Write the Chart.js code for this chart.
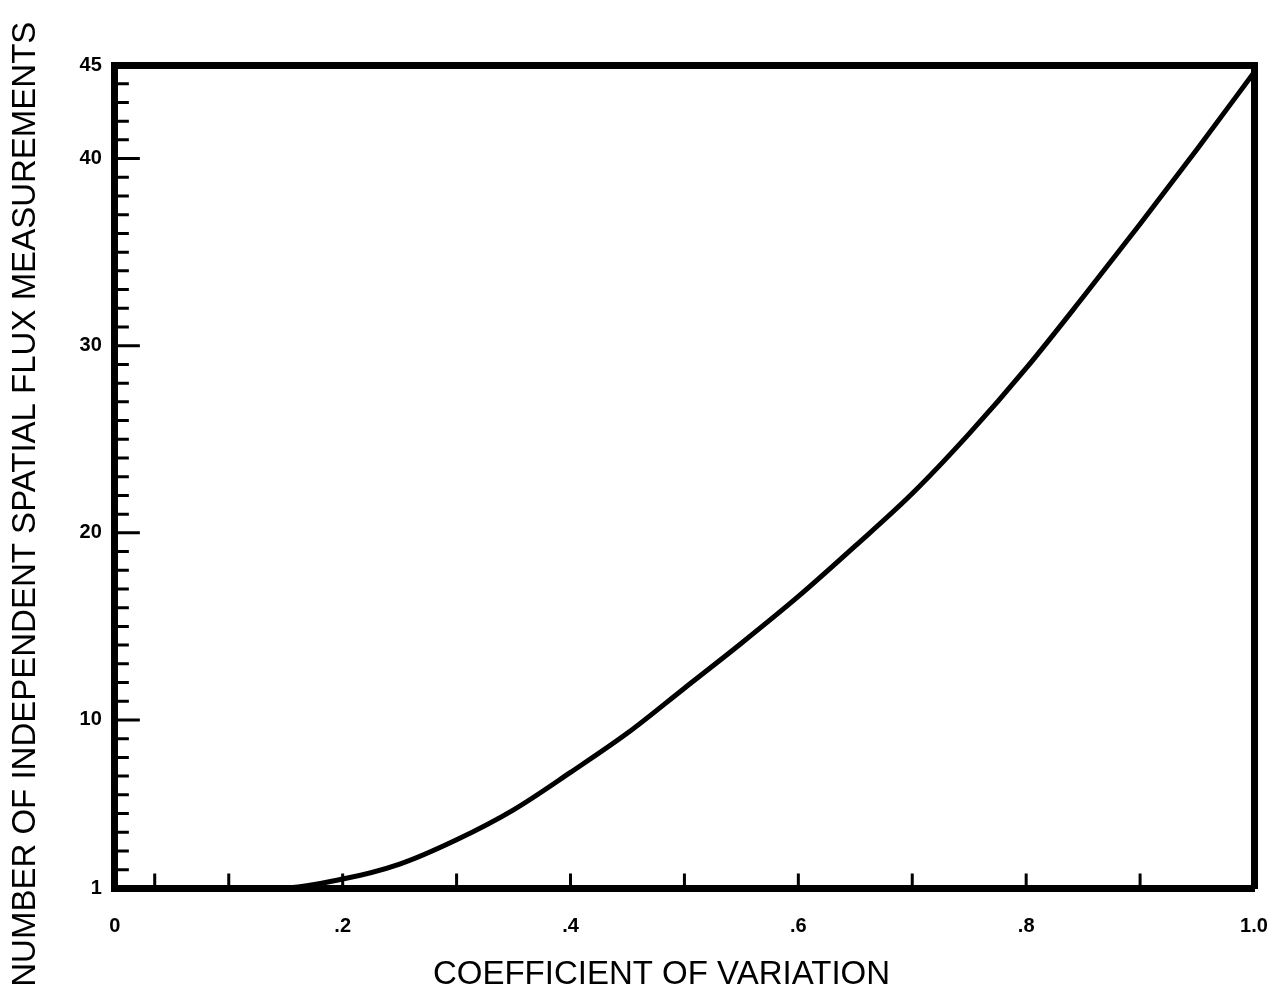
<!DOCTYPE html>
<html>
<head>
<meta charset="utf-8">
<title>Coefficient of variation</title>
<script src="https://cdn.jsdelivr.net/npm/chart.js@4.4.1/dist/chart.umd.min.js"></script>
<style>
  html, body { margin: 0; padding: 0; background: #fff; }
  canvas { display: block; }
</style>
</head>
<body>
<canvas id="chart" width="1279" height="998"></canvas>
<script>
// values
const coefVariation = [0, 0.05, 0.10, 0.14, 0.20, 0.25, 0.30, 0.35, 0.40, 0.45, 0.50, 0.55, 0.60, 0.65, 0.70, 0.75, 0.80, 0.85, 0.90, 0.95, 1.00];
const measurements = [1, 1, 1, 1.0, 1.5, 2.3, 3.6, 5.2, 7.2, 9.3, 11.7, 14.1, 16.6, 19.3, 22.1, 25.3, 28.8, 32.6, 36.5, 40.5, 44.6];

const xTickLabels = [0, 0.2, 0.4, 0.6, 0.8, 1.0];
const xMinorTicks = [0.035, 0.1, 0.3, 0.5, 0.7, 0.9];
const yTickLabels = [1, 10, 20, 30, 40, 45];

const tickFont = { family: "'Liberation Sans', Arial, sans-serif", size: 20, weight: 'bold' };
const titleFont = { family: "'Liberation Sans', Arial, sans-serif", size: 33, weight: 'normal' };

// short marks drawn inside the frame, like the original plot
const innerTicks = {
  id: 'innerTicks',
  afterDatasetsDraw(chart) {
    const { ctx, chartArea, scales: { x, y } } = chart;
    ctx.save();
    ctx.strokeStyle = '#000';
    ctx.lineWidth = 3;
    ctx.beginPath();
    for (let v = y.min + 1; v < y.max; v++) {
      const py = y.getPixelForValue(v);
      const len = yTickLabels.includes(v) ? 25 : 14;
      ctx.moveTo(chartArea.left, py);
      ctx.lineTo(chartArea.left + len, py);
    }
    xTickLabels.concat(xMinorTicks).forEach((v) => {
      if (v <= x.min || v >= x.max) return;
      const px = x.getPixelForValue(v);
      ctx.moveTo(px, chartArea.bottom);
      ctx.lineTo(px, chartArea.bottom - 15);
    });
    ctx.stroke();
    ctx.restore();
  },
};

const frame = { display: true, color: '#000', width: 7 };

new Chart(document.getElementById('chart'), {
  type: 'line',
  data: {
    datasets: [
      {
        data: coefVariation.map((cv, i) => ({ x: cv, y: measurements[i] })),
        borderColor: '#000',
        borderWidth: 5,
        pointRadius: 0,
        fill: false,
        cubicInterpolationMode: 'monotone',
      },
    ],
  },
  options: {
    responsive: false,
    animation: false,
    devicePixelRatio: 1,
    layout: { padding: { top: 65, right: 25, bottom: 0, left: 0 } },
    plugins: { legend: { display: false }, tooltip: { enabled: false } },
    scales: {
      x: {
        type: 'linear',
        min: 0,
        max: 1,
        afterBuildTicks: (s) => { s.ticks = xTickLabels.map((v) => ({ value: v })); },
        afterFit: (s) => { s.paddingRight = 0; s.paddingLeft = 0; },
        ticks: {
          padding: 26,
          color: '#000',
          font: tickFont,
          callback: (v) => (v === 0 ? '0' : v === 1 ? '1.0' : String(v).replace(/^0/, '')),
        },
        grid: { display: false, drawTicks: false },
        border: frame,
        title: {
          display: true,
          text: 'COEFFICIENT OF VARIATION     ',
          color: '#000',
          font: titleFont,
          padding: { top: -9, bottom: 3 },
        },
      },
      y: {
        type: 'linear',
        min: 1,
        max: 45,
        afterBuildTicks: (s) => { s.ticks = yTickLabels.map((v) => ({ value: v })); },
        ticks: { padding: 13, color: '#000', font: tickFont },
        grid: { display: false, drawTicks: false },
        border: frame,
        title: {
          display: true,
          text: 'NUMBER OF INDEPENDENT SPATIAL FLUX MEASUREMENTS      ',
          color: '#000',
          font: titleFont,
          padding: { top: 6, bottom: 21 },
        },
      },
      xTop: {
        type: 'linear',
        position: 'top',
        min: 0,
        max: 1,
        ticks: { display: false },
        grid: { display: false, drawTicks: false },
        border: frame,
        afterFit: (s) => { s.height = 0; },
      },
      yRight: {
        type: 'linear',
        position: 'right',
        min: 1,
        max: 45,
        ticks: { display: false },
        grid: { display: false, drawTicks: false },
        border: frame,
        afterFit: (s) => { s.width = 0; },
      },
    },
  },
  plugins: [innerTicks],
});
</script>
</body>
</html>
